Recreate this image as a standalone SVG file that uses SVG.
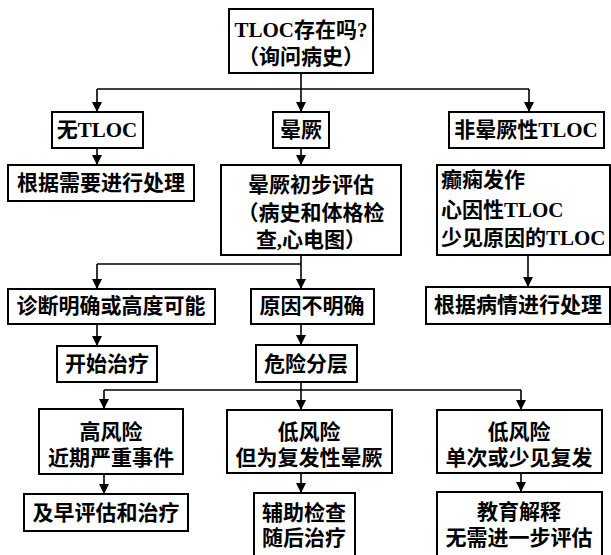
<svg xmlns="http://www.w3.org/2000/svg" width="611" height="555" viewBox="0 0 611 555">
<defs>
<marker id="ah" viewBox="0 0 10 10" refX="10" refY="5" markerWidth="10" markerHeight="10" markerUnits="userSpaceOnUse" orient="auto">
<path d="M0,0 L10,5 L0,10 Z" fill="#000"/>
</marker>
<style>
.box{fill:#fff;stroke:#000;stroke-width:2}
.t{font-family:"Liberation Serif","Noto Sans CJK SC",serif;font-size:21px;font-weight:bold;fill:#000;text-anchor:middle;dominant-baseline:central}
.l{text-anchor:start}
.c{fill:none;stroke:#000;stroke-width:1.6}
.a{fill:none;stroke:#000;stroke-width:1.6;marker-end:url(#ah)}
</style>
</defs>
<rect width="611" height="555" fill="#fff"/>
<g id="connectors">
<path class="c" d="M301,73 V89 M97,89 H529"/>
<path class="a" d="M97,89 V112"/>
<path class="a" d="M301,89 V112"/>
<path class="a" d="M529,89 V112"/>
<path class="a" d="M97,148 V165"/>
<path class="a" d="M301,148 V165"/>
<path class="c" d="M97,264 H301"/>
<path class="a" d="M301,255 V289"/>
<path class="a" d="M97,264 V289"/>
<path class="a" d="M528,255 V287"/>
<path class="a" d="M97,324 V346"/>
<path class="a" d="M301,324 V345"/>
<path class="c" d="M301,382 V390 M104,390 H521"/>
<path class="a" d="M104,390 V409"/>
<path class="a" d="M301,390 V410"/>
<path class="a" d="M521,390 V410"/>
<path class="a" d="M104,474 V494"/>
<path class="a" d="M301,473 V493"/>
<path class="a" d="M521,473 V492"/>
</g>
<g id="n-start"><rect class="box" x="229" y="9" width="144" height="64"/><text class="t" x="301" y="30">TLOC存在吗?</text><text class="t" x="301" y="57">（询问病史）</text></g>
<g id="n-notloc"><rect class="box" x="52" y="112" width="91" height="36"/><text class="t" x="97" y="130">无TLOC</text></g>
<g id="n-syncope"><rect class="box" x="273" y="112" width="56" height="36"/><text class="t" x="301" y="130">晕厥</text></g>
<g id="n-nonsync"><rect class="box" x="449" y="112" width="155" height="36"/><text class="t" x="526" y="130">非晕厥性TLOC</text></g>
<g id="n-handle1"><rect class="box" x="8" y="165" width="186" height="36"/><text class="t" x="101" y="183">根据需要进行处理</text></g>
<g id="n-initial"><rect class="box" x="221" y="165" width="180" height="90"/><text class="t" x="311" y="185">晕厥初步评估</text><text class="t" x="311" y="213">（病史和体格检</text><text class="t" x="311" y="240">查,心电图）</text></g>
<g id="n-epilepsy"><rect class="box" x="437" y="165" width="173" height="90"/><text class="t l" x="441" y="180">癫痫发作</text><text class="t l" x="441" y="210">心因性TLOC</text><text class="t l" x="441" y="238">少见原因的TLOC</text></g>
<g id="n-diag"><rect class="box" x="8" y="289" width="207" height="35"/><text class="t" x="111" y="306">诊断明确或高度可能</text></g>
<g id="n-unclear"><rect class="box" x="251" y="289" width="123" height="35"/><text class="t" x="312" y="306">原因不明确</text></g>
<g id="n-handle2"><rect class="box" x="426" y="287" width="184" height="37"/><text class="t" x="518" y="305">根据病情进行处理</text></g>
<g id="n-treat"><rect class="box" x="57" y="346" width="100" height="36"/><text class="t" x="107" y="364">开始治疗</text></g>
<g id="n-risk"><rect class="box" x="256" y="345" width="101" height="37"/><text class="t" x="306" y="364">危险分层</text></g>
<g id="n-high"><rect class="box" x="39" y="409" width="144" height="65"/><text class="t" x="111" y="432">高风险</text><text class="t" x="111" y="458">近期严重事件</text></g>
<g id="n-lowrec"><rect class="box" x="227" y="410" width="165" height="63"/><text class="t" x="309" y="432">低风险</text><text class="t" x="309" y="458">但为复发性晕厥</text></g>
<g id="n-lowsingle"><rect class="box" x="437" y="410" width="165" height="63"/><text class="t" x="519" y="432">低风险</text><text class="t" x="519" y="458">单次或少见复发</text></g>
<g id="n-early"><rect class="box" x="24" y="494" width="164" height="37"/><text class="t" x="106" y="513">及早评估和治疗</text></g>
<g id="n-aux"><rect class="box" x="254" y="493" width="101" height="70"/><text class="t" x="304" y="513">辅助检查</text><text class="t" x="304" y="538">随后治疗</text></g>
<g id="n-edu"><rect class="box" x="437" y="492" width="165" height="70"/><text class="t" x="519" y="512">教育解释</text><text class="t" x="519" y="538">无需进一步评估</text></g>
</svg>
